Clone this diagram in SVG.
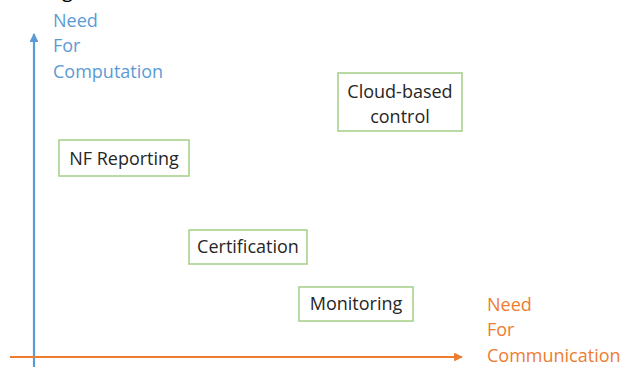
<svg xmlns="http://www.w3.org/2000/svg" width="624" height="367" viewBox="0 0 624 367">
<style>
.lbl{font-family:"Open Sans","Liberation Sans",sans-serif;font-size:18px;fill:#262626;text-anchor:middle}
.box{fill:#fff;stroke:#A9D18E;stroke-width:1.6}
.blue{font-family:"Open Sans","Liberation Sans",sans-serif;font-size:18px;fill:#5B9BD5}
.orange{font-family:"Open Sans","Liberation Sans",sans-serif;font-size:18px;fill:#ED7D31}
</style>
<defs>
<marker id="ab" viewBox="0 0 10 10" refX="9" refY="5" markerWidth="4" markerHeight="4" orient="auto"><path d="M0,0 L10,5 L0,10 z" fill="#5B9BD5"/></marker>
<marker id="ao" viewBox="0 0 10 10" refX="9" refY="5" markerWidth="4" markerHeight="4" orient="auto"><path d="M0,0 L10,5 L0,10 z" fill="#ED7D31"/></marker>
</defs>
<rect width="624" height="367" fill="#fff"/>
<text x="62" y="-3" font-family="Open Sans, sans-serif" font-size="20" fill="#000">g</text>
<g id="connectors">
<line x1="34" y1="367" x2="34" y2="34" stroke="#5B9BD5" stroke-width="2.2" marker-end="url(#ab)"/>
<line x1="10" y1="357" x2="462" y2="357" stroke="#ED7D31" stroke-width="2.2" marker-end="url(#ao)"/>
</g>
<g id="axis-y-label">
<text class="blue" x="53" y="27">Need</text>
<text class="blue" x="53" y="52">For</text>
<text class="blue" x="53" y="78">Computation</text>
</g>
<g id="axis-x-label">
<text class="orange" x="487" y="311">Need</text>
<text class="orange" x="487" y="336">For</text>
<text class="orange" x="487" y="362">Communication</text>
</g>
<g id="nf-reporting">
<rect class="box" x="59" y="140" width="130" height="36"/>
<text class="lbl" x="124" y="165">NF Reporting</text>
</g>
<g id="cloud-based-control">
<rect class="box" x="338" y="73" width="124" height="58"/>
<text class="lbl" x="400" y="98">Cloud-based</text>
<text class="lbl" x="400" y="123">control</text>
</g>
<g id="certification">
<rect class="box" x="189" y="230" width="118" height="34"/>
<text class="lbl" x="248" y="253">Certification</text>
</g>
<g id="monitoring">
<rect class="box" x="299" y="287" width="114" height="34"/>
<text class="lbl" x="356" y="310">Monitoring</text>
</g>
</svg>
